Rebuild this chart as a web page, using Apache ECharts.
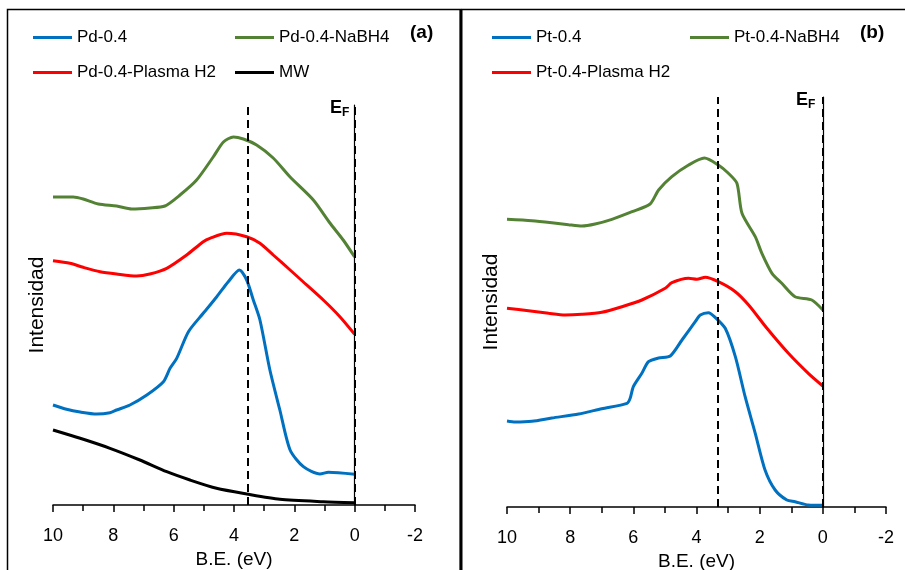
<!DOCTYPE html>
<html><head><meta charset="utf-8">
<script src="https://cdn.jsdelivr.net/npm/echarts@6/dist/echarts.min.js"></script>
<style>html,body{margin:0;padding:0;background:#fff}#c{width:905px;height:570px}</style>
</head><body><div id="c"></div>
<script>
// ---- Panel (a) data ----
const pdBlueX = [10,9.55,9.1,8.55,8.11,7.89,7.45,6.89,6.34,6.12,5.90,5.51,5.02,4.57,4.19,3.82,3.58,3.36,3.14,2.81,2.48,2.14,1.70,1.15,0.87,0];
const pdBlueY = [100,95.7,93,91,92.3,95,100,110,123.3,136.7,146.7,173.3,191.7,208.3,223.3,235,225,205,185,135,95,55,38.3,31,32.7,30.7];
const pdGreenX = [10,9.33,9.0,8.5,7.89,7.39,6.79,6.29,5.79,5.24,4.69,4.35,4.02,3.69,3.25,2.70,2.14,1.37,0.82,0.38,0];
const pdGreenY = [308,308,306,301,299,296,297,299,310,325,348,363,368,366,360,347,328,305,282,265,248];
const pdRedX = [10,9.44,9.0,8.44,7.89,7.23,6.79,6.23,5.57,5.02,4.80,4.24,3.58,3.14,2.70,2.14,1.81,1.04,0.49,0];
const pdRedY = [244.3,241.7,237.7,233.3,231,229,231,236.7,250,263.3,266.7,271.7,268.3,261.7,250,235,226,205,188.3,170.7];
const mwX = [10,9.1,8.11,7.12,6.23,5.46,4.58,3.58,2.48,1.04,0];
const mwY = [75,66.7,56.7,45,33.3,25,16.7,11,5.7,3.3,2.3];
// ---- Panel (b) data ----
const ptBlueX = [10,9.74,9.21,8.58,7.73,7.0,6.2,6.1,6.0,5.73,5.52,5.20,4.83,4.46,4.04,3.88,3.62,3.41,3.09,2.77,2.46,2.14,1.83,1.51,1.14,0.88,0.46,0];
const ptBlueY = [86,85,85.7,89,93,98.3,103.7,108.7,120.3,133.7,145.3,149,151,167,185.3,192,194.3,189.7,178.7,150.3,110.3,73.7,37,17,7,5.3,2,1.7];
const ptGreenX = [10,9.21,8.58,8.05,7.63,7.21,6.68,6.04,5.47,5.20,4.78,4.25,3.75,3.31,2.99,2.72,2.56,2.14,1.93,1.61,1.30,0.88,0.35,0];
const ptGreenY = [287.7,286.3,284.3,282.3,281,283,287.7,295.3,303,317,330.3,342,349,342,333.7,323.7,293.7,270.3,253.7,233.7,223.7,210.3,207,197];
const ptRedX = [10,9.32,8.68,8.16,7.63,7.0,6.36,5.73,4.99,4.78,4.25,3.99,3.72,3.31,2.77,2.35,1.77,1.09,0.46,0];
const ptRedY = [198.7,196.3,193.7,192,192.7,194.7,200.3,207,218.7,224.3,228.7,227.7,229.7,225.3,215.3,202,178.7,153.7,133.7,121];
// ---- reference lines (eV) ----
const linesA = [3.55, 0];
const linesB = [3.32, 0];
const xTicks = [10,8,6,4,2,0,-2];

const pair = (xs, ys) => xs.map((x, i) => [x, ys[i]]);
const BLUE = '#0070C0', GREEN = '#548235', RED = '#FF0000', BLACK = '#000000';
const FONT = 'Liberation Sans';

function xAxis(gi) {
  return {
    gridIndex: gi, type: 'value', min: -2, max: 10, interval: 2, inverse: true,
    axisLine: {show: true, onZero: false, lineStyle: {color: '#000', width: 1.5}},
    axisTick: {show: true, length: 7, lineStyle: {color: '#000', width: 1.5}},
    minorTick: {show: true, splitNumber: 2, length: 6, lineStyle: {color: '#000', width: 1.5}},
    splitLine: {show: false},
    axisLabel: {color: '#000', fontSize: 18, fontFamily: FONT, margin: 22,
      formatter: v => xTicks.includes(v) ? String(v) : ''},
    name: 'B.E. (eV)', nameLocation: 'middle', nameGap: 44,
    nameTextStyle: {color: '#000', fontSize: 19, fontFamily: FONT}
  };
}
function yAxis(gi, max) {
  return {
    gridIndex: gi, type: 'value', min: 0, max: max,
    axisLine: {show: true, lineStyle: {color: '#000', width: 1.2}},
    axisTick: {show: false}, axisLabel: {show: false}, splitLine: {show: false},
    name: 'Intensidad', nameLocation: 'middle', nameGap: 5, nameRotate: 90,
    nameTextStyle: {color: '#000', fontSize: 21, fontFamily: FONT}
  };
}
function line(name, xs, ys, color, gi, mark) {
  const s = {
    name, type: 'line', xAxisIndex: gi, yAxisIndex: gi, data: pair(xs, ys),
    showSymbol: false, smooth: 0.25, lineStyle: {color, width: 3}, itemStyle: {color},
    z: 3
  };
  if (mark) {
    s.markLine = {silent: true, symbol: 'none', label: {show: false},
      lineStyle: {color: '#000', type: [8, 5], width: 2},
      data: mark.map(v => ({xAxis: v}))};
  }
  return s;
}
function leg(name, left, top) {
  return {data: [name], left, top, padding: 0, icon: 'rect', itemWidth: 39, itemHeight: 3,
    itemGap: 5, textStyle: {color: '#000', fontSize: 17, fontFamily: FONT}, selectedMode: false};
}

const chart = echarts.init(document.getElementById('c'));
chart.setOption({
  animation: false,
  backgroundColor: '#fff',
  grid: [
    {left: 53, top: 105, width: 362, height: 400, containLabel: false, outerBoundsMode: 'none'},
    {left: 507, top: 97, width: 379, height: 410, containLabel: false, outerBoundsMode: 'none'}
  ],
  xAxis: [xAxis(0), xAxis(1)],
  yAxis: [yAxis(0, 400), yAxis(1, 410)],
  legend: [
    leg('Pd-0.4', 33, 29), leg('Pd-0.4-NaBH4', 235, 29),
    leg('Pd-0.4-Plasma H2', 33, 64), leg('MW', 235, 64),
    leg('Pt-0.4', 492, 29), leg('Pt-0.4-NaBH4', 690, 29),
    leg('Pt-0.4-Plasma H2', 492, 64)
  ],
  series: [
    line('Pd-0.4', pdBlueX, pdBlueY, BLUE, 0, linesA),
    line('Pd-0.4-NaBH4', pdGreenX, pdGreenY, GREEN, 0),
    line('Pd-0.4-Plasma H2', pdRedX, pdRedY, RED, 0),
    line('MW', mwX, mwY, BLACK, 0),
    line('Pt-0.4', ptBlueX, ptBlueY, BLUE, 1, linesB),
    line('Pt-0.4-NaBH4', ptGreenX, ptGreenY, GREEN, 1),
    line('Pt-0.4-Plasma H2', ptRedX, ptRedY, RED, 1)
  ],
  graphic: [
    {type: 'rect', shape: {x: 7.5, y: 9.5, width: 453, height: 600}, style: {fill: 'none', stroke: '#000', lineWidth: 1.5}, silent: true},
    {type: 'line', shape: {x1: 461, y1: 9, x2: 461, y2: 570}, style: {stroke: '#000', lineWidth: 3}, silent: true},
    {type: 'line', shape: {x1: 461, y1: 9.5, x2: 905, y2: 9.5}, style: {stroke: '#000', lineWidth: 1.5}, silent: true},
    {type: 'text', left: 410, top: 23, style: {text: '(a)', fontSize: 19, fontWeight: 'bold', fontFamily: FONT, fill: '#000'}},
    {type: 'text', left: 860, top: 23, style: {text: '(b)', fontSize: 19, fontWeight: 'bold', fontFamily: FONT, fill: '#000'}},
    {type: 'text', left: 330, top: 99, style: {text: '{e|E}{f|F}', rich: {
      e: {fontSize: 18, fontWeight: 'bold', fontFamily: FONT, fill: '#000'},
      f: {fontSize: 12, fontWeight: 'bold', fontFamily: FONT, fill: '#000', padding: [10, 0, 0, 0]}}}},
    {type: 'text', left: 796, top: 91, style: {text: '{e|E}{f|F}', rich: {
      e: {fontSize: 18, fontWeight: 'bold', fontFamily: FONT, fill: '#000'},
      f: {fontSize: 12, fontWeight: 'bold', fontFamily: FONT, fill: '#000', padding: [10, 0, 0, 0]}}}}
  ]
});
</script>
</body></html>
